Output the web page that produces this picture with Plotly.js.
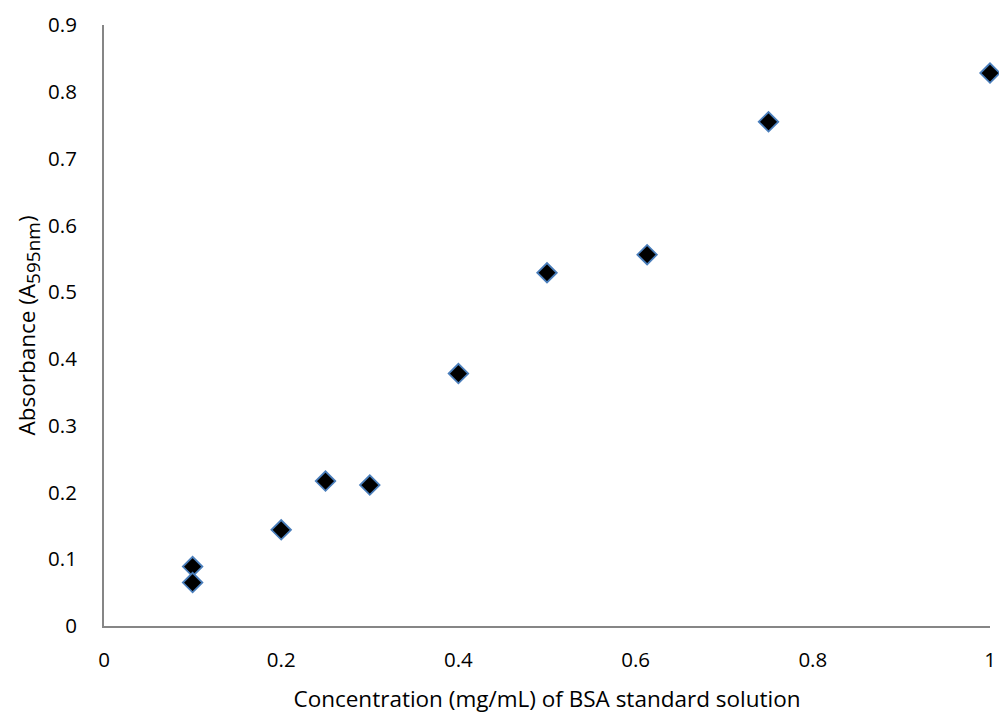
<!DOCTYPE html>
<html><head><meta charset="utf-8">
<script src="https://cdn.plot.ly/plotly-3.0.1.min.js"></script>
<style>body{margin:0}#c{width:999px;height:715px}</style>
</head><body><div id="c"></div>
<script>
const concentration = [0.1, 0.1, 0.2, 0.25, 0.3, 0.4, 0.5, 0.613, 0.75, 1.0];
const absorbance = [0.089, 0.065, 0.144, 0.217, 0.211, 0.378, 0.529, 0.556, 0.755, 0.828];
const xTicks = [0, 0.2, 0.4, 0.6, 0.8, 1];
const xTickLabels = ['0', '0.2', '0.4', '0.6', '0.8', '1'];
const yTicks = [0, 0.1, 0.2, 0.3, 0.4, 0.5, 0.6, 0.7, 0.8, 0.9];
const yTickLabels = ['0', '0.1', '0.2', '0.3', '0.4', '0.5', '0.6', '0.7', '0.8', '0.9'];

const fam = '"Open Sans", "Liberation Sans", sans-serif';
const tickFont = {family: fam, size: 20.5, color: '#000'};
const titleFont = {family: fam, size: 22.5, color: '#000'};
Plotly.newPlot('c', [{
  x: concentration, y: absorbance, type: 'scatter', mode: 'markers', cliponaxis: false,
  marker: {symbol: 'diamond', size: 15, color: '#000', line: {color: '#4a7ebb', width: 1.8}}
}], {
  width: 999, height: 715,
  margin: {l: 104, r: 9, t: 25, b: 89},
  paper_bgcolor: '#fff', plot_bgcolor: '#fff',
  showlegend: false,
  font: tickFont,
  xaxis: {range: [0, 1], tickvals: xTicks, ticktext: xTickLabels, showgrid: false, zeroline: false,
    showline: true, linecolor: '#868686', linewidth: 2, ticks: '', ticklen: 0, ticklabelstandoff: 14,
    tickfont: tickFont, title: {text: 'Concentration (mg/mL) of BSA standard solution', font: titleFont, standoff: 20}},
  yaxis: {range: [0, 0.9], tickvals: yTicks, ticktext: yTickLabels, showgrid: false, zeroline: false,
    showline: true, linecolor: '#868686', linewidth: 2, ticks: '', ticklen: 0, ticklabelstandoff: 21,
    tickfont: tickFont, title: {text: 'Absorbance (A<sub><span style="font-size:19px">595nm</span></sub>)', font: titleFont, standoff: 6}}
}, {displayModeBar: false});
</script></body></html>
